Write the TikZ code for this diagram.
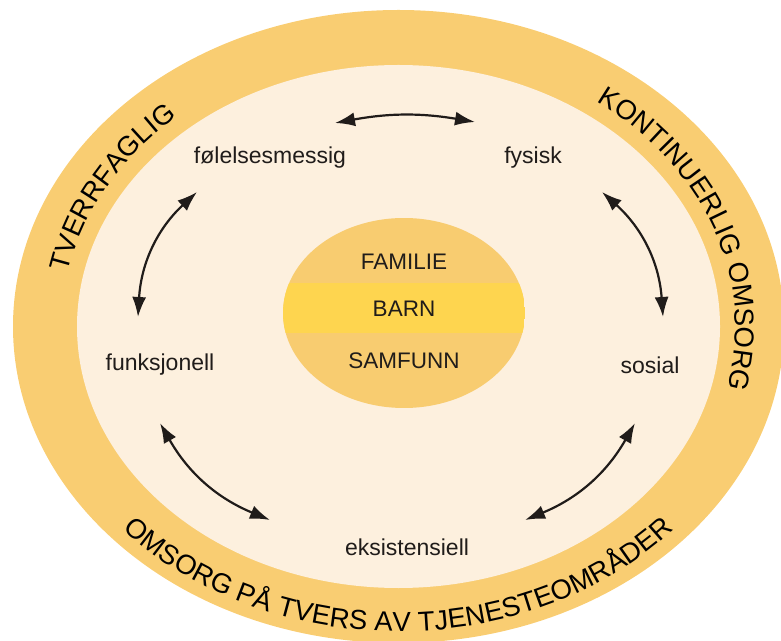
\documentclass[tikz,border=0pt]{standalone}
\usepackage{fontspec}
\setmainfont{Liberation Sans}
\usetikzlibrary{arrows.meta,decorations.text}
\definecolor{ring}{HTML}{F9CD72}
\definecolor{cream}{HTML}{FDF0DE}
\definecolor{core}{HTML}{F8CC70}
\definecolor{band}{HTML}{FED54F}
\definecolor{ink}{HTML}{201C1A}
\newcommand\ringfont{\fontsize{27.5}{30}\selectfont}
\tikzset{
  >={Latex[length=20pt,width=14pt]},
  every node/.style={text=ink},
  lbl/.style={font=\fontsize{23}{26}\selectfont,inner sep=0pt},
  corelbl/.style={font=\fontsize{22.5}{26}\selectfont,inner sep=0pt},
  arrow/.style={<->,line width=2.2pt,draw=ink},
  ringtext/.style={decoration={text along path,text align=center,text={#1}},decorate},
}
\begin{document}
\begin{tikzpicture}[x=1pt,y=1pt]
\useasboundingbox (0,0) rectangle (781,640);
\clip (0,0) rectangle (781,640);
\coordinate (o) at (398.5,313.5);
% rings
\fill[ring] (o) ellipse[x radius=385.5,y radius=316.5];
\fill[cream] (o) ellipse[x radius=321.5,y radius=261.5];
% core
\begin{scope}
  \clip (404,327) ellipse[x radius=121,y radius=95];
  \fill[core] (283,232) rectangle (525,422);
  \fill[band] (283,307) rectangle (525,357);
\end{scope}
\node[corelbl] (familie) at (404,378) {FAMILIE};
\node[corelbl] (barn) at (404,331) {BARN};
\node[corelbl] (samfunn) at (404,279) {SAMFUNN};
% ring texts
\path[ringtext={|\ringfont|TVERRFAGLIG}]
  ([shift={(o)}]192:337 and 278) arc[start angle=192,end angle=111,x radius=337,y radius=278];
\path[ringtext={|\ringfont|KONTINUERLIG OMSORG}]
  ([shift={(o)}]70:337 and 278) arc[start angle=70,end angle=-31,x radius=337,y radius=278];
\path[ringtext={|\ringfont|OMSORG PÅ TVERS AV TJENESTEOMRÅDER}]
  ([shift={(o)}]210:369 and 305) arc[start angle=210,end angle=330,x radius=369,y radius=305];
% labels
\node[lbl] (folelse) at (270,482) {følelsesmessig};
\node[lbl] (fysisk) at (533,482) {fysisk};
\node[lbl] (funksjon) at (160,275) {funksjonell};
\node[lbl] (sosial) at (650,275) {sosial};
\node[lbl] (eksist) at (407,93) {eksistensiell};
% arrow ends
\coordinate (fol-e) at (335,517);
\coordinate (fys-w) at (475,518);
\coordinate (fol-s) at (197,448);
\coordinate (fun-n) at (138,323);
\coordinate (fys-s) at (602,448);
\coordinate (sos-n) at (663,323);
\coordinate (fun-s) at (160,217);
\coordinate (eks-w) at (270,120);
\coordinate (sos-s) at (635,217);
\coordinate (eks-e) at (525,120);
\draw[arrow] (fol-e) to[bend left=10] (fys-w);
\draw[arrow] (fol-s) to[bend right=22] (fun-n);
\draw[arrow] (fys-s) to[bend left=22] (sos-n);
\draw[arrow] (fun-s) to[bend right=19] (eks-w);
\draw[arrow] (sos-s) to[bend left=19] (eks-e);
\end{tikzpicture}
\end{document}
